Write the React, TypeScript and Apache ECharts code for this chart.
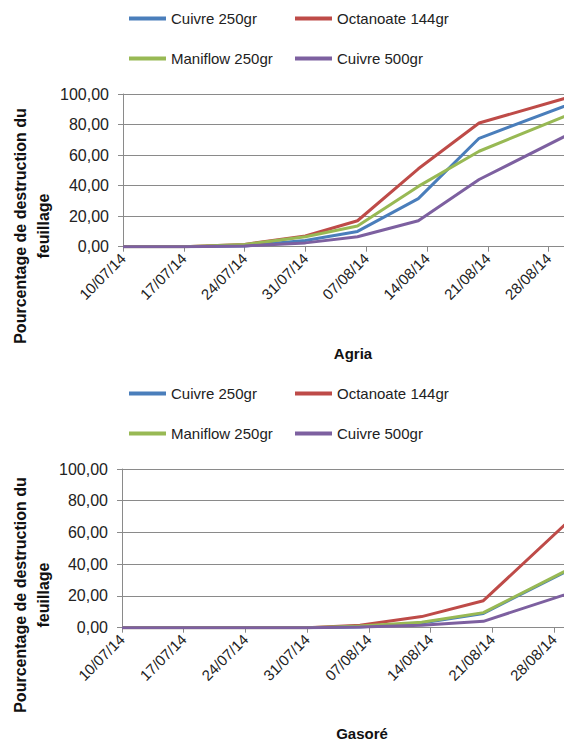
import React, { useEffect, useRef } from "react";
import * as echarts from "echarts";

// ---- data ----
const xTickLabels = ["10/07/14", "17/07/14", "24/07/14", "31/07/14", "07/08/14", "14/08/14", "21/08/14", "28/08/14", ""];
const sampleDates = ["10/07/14", "17/07/14", "24/07/14", "31/07/14", "06/08/14", "13/08/14", "20/08/14", "31/08/14"];
const seriesNames = ["Cuivre 250gr", "Octanoate 144gr", "Maniflow 250gr", "Cuivre 500gr"];

const agriaCuivre250 = [0, 0, 0.5, 4, 10, 31.5, 71, 94.5];
const agriaOctanoate144 = [0, 0, 1.5, 7, 17, 51, 81, 99];
const agriaManiflow250 = [0, 0, 1.5, 6.5, 13.5, 39.5, 62.5, 88];
const agriaCuivre500 = [0, 0, 0.5, 2.5, 6.5, 17, 44, 75.5];

const gasoreCuivre250 = [0, 0, 0, 0, 0.5, 3, 9, 40];
const gasoreOctanoate144 = [0, 0, 0, 0, 1.5, 7, 17, 74];
const gasoreManiflow250 = [0, 0, 0, 0, 1, 3.5, 9.5, 40.5];
const gasoreCuivre500 = [0, 0, 0, 0, 0.5, 1.5, 4, 24];

const colors = ["#4a7ebb", "#be4b48", "#98b954", "#7d60a0"];

const toDay = (s: string) => {
  const [d, m, y] = s.split("/").map(Number);
  return Math.round((Date.UTC(2000 + y, m - 1, d) - Date.UTC(2014, 6, 10)) / 86400000);
};
const days = sampleDates.map(toDay);
const pairs = (vals: number[]) => vals.map((v, i) => [days[i], v]);

const FONT = "'Liberation Sans', Arial, sans-serif";
const CHART_W = 640;

export default function App() {
  const ref = useRef<HTMLDivElement>(null);
  useEffect(() => {
    if (!ref.current) return;
    const chart = echarts.init(ref.current, null, { renderer: "svg" });
    const xAxisBase = (gridIndex: number) => ({
      type: "value",
      gridIndex,
      min: 0,
      max: 56,
      interval: 7,
      axisLine: { lineStyle: { color: "#8a8a8a", width: 1 } },
      axisTick: { show: true, length: 5, lineStyle: { color: "#8a8a8a" } },
      splitLine: { show: false },
      axisLabel: {
        rotate: 45,
        margin: 9,
        fontSize: 15,
        fontFamily: FONT,
        color: "#222",
        formatter: (v: number) => xTickLabels[Math.round(v / 7)] ?? "",
      },
    });
    const yAxisBase = (gridIndex: number) => ({
      type: "value",
      gridIndex,
      min: 0,
      max: 100,
      interval: 20,
      axisLine: { show: true, lineStyle: { color: "#8a8a8a", width: 1 } },
      axisTick: { show: true, length: 5, lineStyle: { color: "#8a8a8a" } },
      splitLine: { show: true, lineStyle: { color: "#8a8a8a", width: 1 } },
      axisLabel: {
        margin: 14,
        fontSize: 16,
        fontFamily: FONT,
        color: "#222",
        formatter: (v: number) => v.toFixed(2).replace(".", ","),
      },
    });
    const agria = [agriaCuivre250, agriaOctanoate144, agriaManiflow250, agriaCuivre500];
    const gasore = [gasoreCuivre250, gasoreOctanoate144, gasoreManiflow250, gasoreCuivre500];
    const mkSeries = (arrs: number[][], idx: number) =>
      arrs.map((vals, i) => ({
        type: "line",
        name: seriesNames[i],
        xAxisIndex: idx,
        yAxisIndex: idx,
        data: pairs(vals),
        showSymbol: false,
        symbol: "none",
        lineStyle: { color: colors[i], width: 3 },
        itemStyle: { color: colors[i] },
      }));
    const legendPos = [
      [129, 0],
      [295, 0],
      [129, 1],
      [295, 1],
    ];
    const legends: any[] = [];
    [
      [11, 51],
      [386, 426],
    ].forEach((rows) => {
      seriesNames.forEach((n, i) => {
        legends.push({
          data: [n],
          left: legendPos[i][0],
          top: rows[legendPos[i][1]],
          padding: 0,
          itemWidth: 37,
          itemHeight: 4,
          icon: "rect",
          selectedMode: false,
          textStyle: { fontSize: 15, fontFamily: FONT, color: "#222" },
        });
      });
    });
    const yTitle = "Pourcentage de destruction du\nfeuillage";
    chart.setOption({
      animation: false,
      backgroundColor: "#ffffff",
      legend: legends,
      grid: [
        { left: 123, top: 94, right: CHART_W - 609.4, bottom: 743 - 246.7 },
        { left: 122, top: 469, right: CHART_W - 615.6, bottom: 743 - 627.7 },
      ],
      xAxis: [xAxisBase(0), xAxisBase(1)],
      yAxis: [yAxisBase(0), yAxisBase(1)],
      series: [...mkSeries(agria, 0), ...mkSeries(gasore, 1)],
      graphic: [
        {
          type: "text",
          x: 32,
          y: 226,
          rotation: Math.PI / 2,
          style: {
            text: yTitle,
            font: `bold 16px ${FONT}`,
            fill: "#111",
            align: "center",
            verticalAlign: "middle",
            lineHeight: 23,
          },
        },
        {
          type: "text",
          x: 32,
          y: 595,
          rotation: Math.PI / 2,
          style: {
            text: yTitle,
            font: `bold 16px ${FONT}`,
            fill: "#111",
            align: "center",
            verticalAlign: "middle",
            lineHeight: 23,
          },
        },
        {
          type: "text",
          x: 353,
          y: 353,
          style: { text: "Agria", font: `bold 15px ${FONT}`, fill: "#111", align: "center", verticalAlign: "middle" },
        },
        {
          type: "text",
          x: 362,
          y: 733,
          style: { text: "Gasoré", font: `bold 15px ${FONT}`, fill: "#111", align: "center", verticalAlign: "middle" },
        },
      ],
    });
    return () => chart.dispose();
  }, []);
  return (
    <div style={{ position: "fixed", left: 0, top: 0, width: 564, height: 743, overflow: "hidden", background: "#fff" }}>
      <div ref={ref} style={{ width: CHART_W, height: 743 }} />
    </div>
  );
}
